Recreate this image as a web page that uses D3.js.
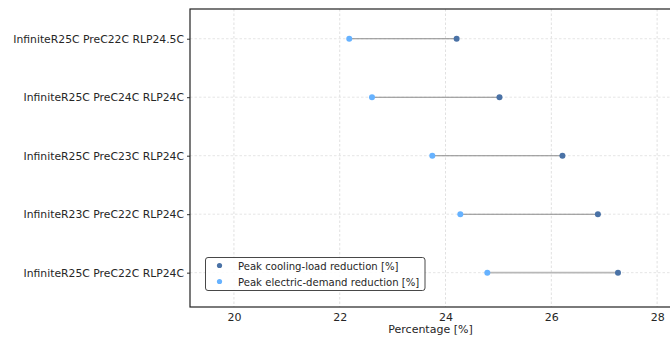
<!DOCTYPE html>
<html><head><meta charset="utf-8">
<script src="https://cdn.jsdelivr.net/npm/d3@7"></script>
<style>body{margin:0;background:#fff;}svg{display:block;font-family:"DejaVu Sans",sans-serif;}</style>
</head><body>
<svg id="c" width="670" height="337"></svg>
<script>
const categories = [
  "InfiniteR25C PreC22C RLP24C",
  "InfiniteR23C PreC22C RLP24C",
  "InfiniteR25C PreC23C RLP24C",
  "InfiniteR25C PreC24C RLP24C",
  "InfiniteR25C PreC22C RLP24.5C"
];
const coolingReduction = [27.26, 26.88, 26.21, 25.02, 24.21];
const electricReduction = [24.79, 24.28, 23.75, 22.61, 22.18];
const xTicks = [20, 22, 24, 26, 28];
const seriesNames = ["Peak cooling-load reduction [%]", "Peak electric-demand reduction [%]"];

const coolColor = "#4a72a6", elecColor = "#66b2ff";
const svg = d3.select("#c");
const L = 190, R = 682, T = 9, B = 307;
const x = d3.scaleLinear().domain([19.17, 28.47]).range([L, R]);
const y = d3.scaleLinear().domain([-0.587, 4.508]).range([B, T]);

const g = svg.append("g");
// grid
g.selectAll(".vg").data(xTicks).enter().append("line")
  .attr("x1", d => x(d)).attr("x2", d => x(d)).attr("y1", T).attr("y2", B)
  .attr("stroke", "#d8d8d8").attr("stroke-width", 0.8).attr("stroke-dasharray", "2.5,2");
g.selectAll(".hg").data(categories).enter().append("line")
  .attr("x1", L).attr("x2", R).attr("y1", (d, i) => y(i)).attr("y2", (d, i) => y(i))
  .attr("stroke", "#dedede").attr("stroke-width", 0.8).attr("stroke-dasharray", "2.5,2");

// connectors
g.selectAll(".conn").data(categories).enter().append("line")
  .attr("x1", (d, i) => x(electricReduction[i])).attr("x2", (d, i) => x(coolingReduction[i]))
  .attr("y1", (d, i) => y(i)).attr("y2", (d, i) => y(i))
  .attr("stroke", (d, i) => i === 0 ? "#b8b8b8" : "#8a8a8a")
  .attr("stroke-width", (d, i) => i === 0 ? 1.6 : 1.1);

g.selectAll(".pe").data(electricReduction).enter().append("circle")
  .attr("cx", d => x(d)).attr("cy", (d, i) => y(i)).attr("r", 3).attr("fill", elecColor);
g.selectAll(".pc").data(coolingReduction).enter().append("circle")
  .attr("cx", d => x(d)).attr("cy", (d, i) => y(i)).attr("r", 3).attr("fill", coolColor);

// axes
const xAxis = d3.axisBottom(x).tickValues(xTicks).tickSize(0).tickPadding(6).tickFormat(d3.format("d"));
const xg = svg.append("g").attr("transform", `translate(0,${B})`).call(xAxis);
xg.select(".domain").remove();
xg.selectAll("text").attr("font-size", 11).attr("fill", "#262626").attr("font-family", "DejaVu Sans");

const yAxis = d3.axisLeft(y).tickValues(d3.range(categories.length)).tickFormat(i => categories[i]).tickSize(3).tickPadding(3);
const yg = svg.append("g").attr("transform", `translate(${L},0)`).call(yAxis);
yg.select(".domain").remove();
yg.selectAll("text").attr("font-size", 10.8).attr("fill", "#262626").attr("font-family", "DejaVu Sans");
yg.selectAll("line").attr("stroke", "#333");

// frame
svg.append("rect").attr("x", L).attr("y", T).attr("width", R - L).attr("height", B - T)
  .attr("fill", "none").attr("stroke", "#222").attr("stroke-width", 1.2);

svg.append("text").attr("x", (x(20) + x(28)) / 2 - 15).attr("y", 333).attr("text-anchor", "middle")
  .attr("font-size", 11).attr("fill", "#262626").text("Percentage [%]");

// legend
const lg = svg.append("g");
lg.append("rect").attr("x", 205.5).attr("y", 257.5).attr("width", 219.5).attr("height", 33).attr("rx", 2.5)
  .attr("fill", "#fff").attr("fill-opacity", 0.85).attr("stroke", "#333").attr("stroke-width", 0.9);
[coolColor, elecColor].forEach((c, i) => {
  lg.append("circle").attr("cx", 219.5).attr("cy", 265.5 + i * 16).attr("r", 2.6).attr("fill", c);
  lg.append("text").attr("x", 238).attr("y", 269.5 + i * 16).attr("font-size", 10.1).attr("fill", "#262626").text(seriesNames[i]);
});
</script>
</body></html>
